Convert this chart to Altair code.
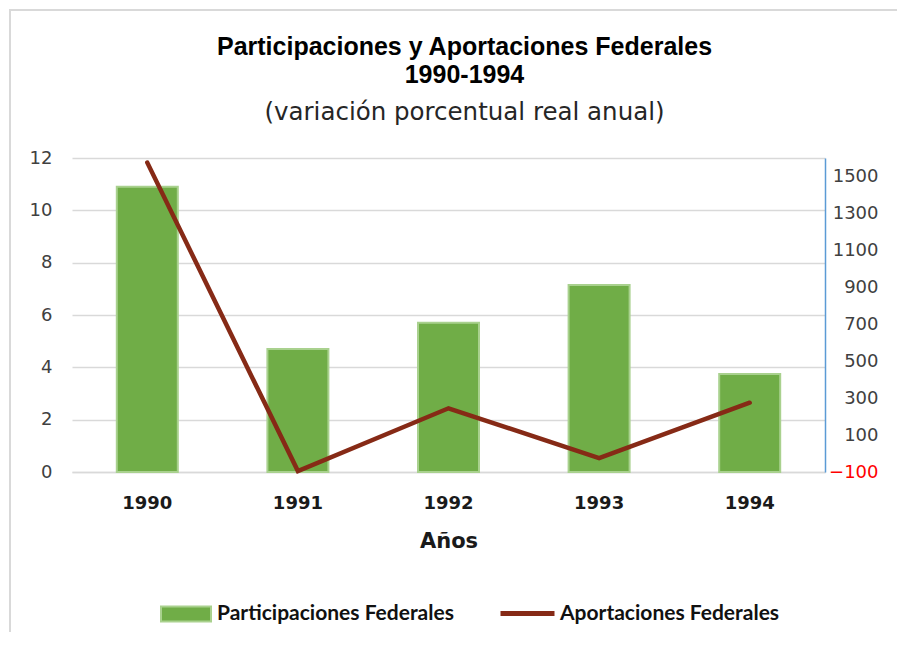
import altair as alt
import pandas as pd

years = ["1990", "1991", "1992", "1993", "1994"]
participaciones = [10.9, 4.7, 5.7, 7.15, 3.75]
aportaciones = [1575, -95, 245, -25, 275]
left_ticks = [0, 2, 4, 6, 8, 10, 12]
right_ticks = [-100, 100, 300, 500, 700, 900, 1100, 1300, 1500]
serie_p = "Participaciones Federales"
serie_a = "Aportaciones Federales"

df = pd.DataFrame({
    "year": years,
    "part": participaciones,
    "aport": aportaciones,
    "sp": [serie_p] * len(years),
    "sa": [serie_a] * len(years),
})

GREEN = "#70AD47"
GREEN_EDGE = "#A9D18E"
BROWN = "#862A16"
GRID = "#d9d9d9"
LABEL = "#404040"

x_enc = alt.X(
    "year:N",
    scale=alt.Scale(paddingInner=0, paddingOuter=0),
    axis=alt.Axis(
        labelAngle=0, labelFont="DejaVu Sans", labelFontWeight="bold",
        labelFontSize=18, labelColor="#1a1a1a", labelPadding=22,
        ticks=False, domain=True, domainColor=GRID, domainWidth=1.5,
        title="Años", titleFont="DejaVu Sans", titleFontSize=21,
        titleFontWeight="bold", titleColor="#1a1a1a", titlePadding=18,
    ),
)

bars = alt.Chart(df).mark_bar(size=61, stroke=GREEN_EDGE, strokeWidth=2).encode(
    x=x_enc,
    y=alt.Y(
        "part:Q",
        scale=alt.Scale(domain=[0, 12], nice=False),
        axis=alt.Axis(
            values=left_ticks, grid=True, gridColor=GRID, gridWidth=1.5,
            domain=False, ticks=False, labelFont="DejaVu Sans",
            labelFontSize=18, labelColor=LABEL, labelPadding=20, title=None,
        ),
    ),
    color=alt.Color(
        "sp:N",
        scale=alt.Scale(domain=[serie_p], range=[GREEN]),
        legend=alt.Legend(
            orient="none", legendX=88, legendY=430, title=None,
            symbolType="M-1,-0.3L1,-0.3L1,0.3L-1,0.3Z", symbolSize=2500,
            symbolStrokeColor=GREEN_EDGE, symbolStrokeWidth=2,
            labelFont="Lato", labelFontWeight="bold", labelFontSize=21,
            labelColor="#111111", labelOffset=5, labelLimit=0,
        ),
    ),
)

line = alt.Chart(df).mark_line(strokeWidth=4.5, strokeCap="round", strokeJoin="miter").encode(
    x=x_enc,
    y=alt.Y(
        "aport:Q",
        scale=alt.Scale(domain=[-100, 1600], nice=False),
        axis=alt.Axis(
            orient="right", values=right_ticks, format="d", grid=False, domain=True,
            domainColor="#5B9BD5", domainWidth=1.5, ticks=False,
            labelAlign="right", labelPadding=53, labelFont="DejaVu Sans",
            labelFontSize=18,
            labelColor=alt.expr("datum.value < 0 ? '#FF0000' : '#404040'"),
            title=None,
        ),
    ),
    color=alt.Color(
        "sa:N",
        scale=alt.Scale(domain=[serie_a], range=[BROWN]),
        legend=alt.Legend(
            orient="none", legendX=426, legendY=426, title=None,
            symbolType="stroke", symbolSize=2916, symbolStrokeWidth=5,
            labelFont="Lato", labelFontWeight="bold", labelFontSize=21,
            labelColor="#111111", labelOffset=3, labelLimit=0,
        ),
    ),
)

frame = alt.Chart(pd.DataFrame({"k": [0]})).mark_rect(
    fill=None, stroke=GRID, strokeWidth=2
).encode(
    x=alt.value(-62), x2=alt.value(900), y=alt.value(-148), y2=alt.value(700)
)

chart = alt.layer(frame, bars, line).resolve_scale(
    y="independent", color="independent"
).properties(
    width=753,
    height=314,
    autosize=alt.AutoSizeParams(type="none"),
    padding={"left": 64, "top": 150, "right": 72, "bottom": 160},
    title=alt.TitleParams(
        text=["Participaciones y Aportaciones Federales", "1990-1994"],
        subtitle=["(variación porcentual real anual)"],
        font="Liberation Sans", fontSize=25, fontWeight="bold", color="#000000",
        lineHeight=28,
        subtitleFont="DejaVu Sans", subtitleFontSize=24.5, subtitleColor="#262626",
        subtitlePadding=13, anchor="middle", dx=16, dy=115, offset=0, frame="group",
    ),
).configure_view(stroke=None)

chart.save("out.html", embed_options={"renderer": "svg", "actions": False})
